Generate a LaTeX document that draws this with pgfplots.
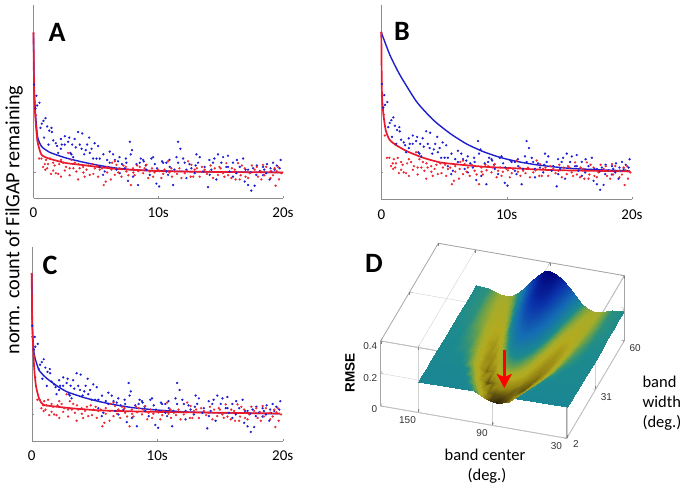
\documentclass[border=0pt]{standalone}
\usepackage{fontspec}
\setmainfont{Carlito}
\newfontfamily\arialf{Liberation Sans}
\usepackage{pgfplots}
\usepackage{pgfplotstable}
\usetikzlibrary{arrows.meta}
\pgfplotsset{compat=1.18}

\definecolor{ptblue}{RGB}{30,30,215}
\definecolor{ptred}{RGB}{235,40,50}
\definecolor{lnblue}{RGB}{30,30,205}
\definecolor{lnred}{RGB}{235,25,45}

% scatter is the same in all three panels
\pgfplotstableread{
x y
0.05 0.63
0.24 0.55
0.16 0.46
0.29 0.48
0.48 0.50
0.67 0.35
0.80 0.37
0.96 0.39
0.56 0.32
1.09 0.33
1.26 0.30
1.44 0.32
1.47 0.29
0.85 0.25
1.58 0.23
1.79 0.21
2.19 0.24
2.51 0.26
2.27 0.20
2.78 0.22
2.86 0.25
1.98 0.14
2.19 0.17
3.58 0.29
3.90 0.28
4.46 0.25
3.71 0.20
3.39 0.18
2.96 0.14
3.85 0.17
4.19 0.16
4.65 0.17
5.18 0.19
4.06 0.13
4.51 0.14
3.04 0.13
3.18 0.11
4.78 0.10
5.05 0.10
6.11 0.15
6.38 0.13
5.31 0.10
6.52 0.09
6.11 0.07
6.78 0.08
7.10 0.06
7.45 0.07
7.72 0.22
7.90 0.16
7.80 0.13
8.52 0.07
8.25 0.06
8.79 0.09
9.45 0.10
9.59 0.11
8.84 0.08
9.72 0.06
10.39 0.07
10.65 0.07
10.92 0.04
11.59 0.22
11.78 0.17
11.46 0.11
11.59 0.07
12.12 0.07
13.06 0.13
13.32 0.11
13.19 0.07
13.72 0.04
14.79 0.13
15.59 0.12
15.06 0.07
14.39 0.07
16.80 0.10
15.99 0.07
16.53 0.04
18.72 0.06
19.81 0.09
19.20 0.07
19.33 0.02
19.73 0.03
18.66 -0.005
7.58 -0.06
7.98 -0.03
8.38 -0.09
9.85 -0.08
10.07 -0.10
11.19 -0.09
12.26 -0.04
13.99 -0.105
14.66 -0.05
15.99 -0.03
16.93 -0.065
17.46 -0.13
17.73 -0.095
17.2 -0.09
18.4 -0.02
18.93 -0.05
18.13 0.01
5.31 0.04
5.71 0.007
5.58 -0.017
6.65 0.02
6.91 -0.005
7.31 0.03
9.05 0.02
9.32 -0.017
10.65 0.007
10.79 -0.017
12.26 0.02
12.66 0.03
12.92 -0.005
13.59 0.007
14.26 0.02
14.12 -0.017
15.46 0.04
15.72 0.007
16.26 -0.005
17.2 0.02
17.6 0.03
17.86 -0.017
18.4 0.04
19.06 0.007
1.2 0.2
1.9 0.19
2.5 0.2
3.1 0.2
3.3 0.24
4.3 0.2
4.9 0.21
5.6 0.13
5.9 0.09
6.9 0.11
7.4 0.1
8.6 0.1
9.0 0.05
9.9 0.03
10.3 0.08
10.9 0.09
11.3 0.02
12.0 0.1
12.5 0.06
13.0 0.05
14.1 0.09
14.5 0.1
15.2 0.11
15.6 0.04
16.3 0.09
17.0 0.02
17.4 0.0
17.9 0.05
18.5 0.02
19.0 0.03
19.5 0.05
}\bluepts

\pgfplotstableread{
x y
0 1
0.05 0.55
0.19 0.41
0.29 0.26
0.45 0.10
0.64 0.10
0.77 0.04
0.91 0.06
1.17 0.06
1.31 0.10
1.58 0.014
1.79 -0.005
1.98 -0.01
1.58 0.07
2.06 0.06
2.38 0.07
2.51 0.014
2.78 0.14
3.04 0.09
3.31 0.07
3.44 0.007
3.58 -0.05
3.98 0.04
4.25 0.02
4.51 -0.017
4.91 0.03
5.18 -0.03
5.79 -0.065
5.63 -0.09
5.31 0.02
6.25 0.02
6.52 -0.017
6.65 0.055
6.52 0.08
6.91 0.03
7.05 -0.03
7.8 -0.09
7.45 0.007
7.98 0.03
8.52 0.04
8.79 -0.005
9.05 0.055
9.32 0.007
9.59 -0.03
9.99 0.02
10.25 -0.04
10.79 0.08
11.05 0.03
11.32 0.007
11.86 -0.04
12.12 -0.005
12.39 0.08
12.66 0.055
12.92 0.02
13.32 -0.03
13.72 0.02
14.12 0.007
14.53 0.03
14.79 -0.017
15.19 -0.005
15.46 0.067
15.86 -0.04
16.13 0.02
16.4 0.067
16.53 -0.05
16.93 0.03
17.33 -0.005
17.73 0.02
18 -0.03
18.26 -0.05
18.66 0.04
18.99 0.007
19.33 0.03
19.41 -0.095
19.68 -0.05
19.87 -0.005
18.4 0.055
0.95 0.02
1.4 -0.01
2.2 -0.03
2.9 0.03
3.7 0.03
4.1 -0.03
4.7 0.06
5.9 0.04
6.2 -0.05
7.4 0.04
8.1 -0.02
8.4 0.01
9.5 0.03
10.1 0.01
10.5 0.02
11.5 -0.01
12.6 -0.03
13.1 0.03
13.9 -0.01
14.4 -0.04
15.0 0.03
15.6 -0.02
16.6 -0.02
17.0 -0.03
17.5 0.05
18.2 0.01
19.0 -0.04
19.5 0.01
1.0 0.09
1.1 0.03
1.7 0.05
2.2 0.09
2.6 0.04
2.9 -0.02
3.2 0.03
3.6 0.06
4.0 0.0
4.4 0.05
4.8 -0.01
5.1 0.05
5.5 0.03
5.9 0.0
6.3 0.07
6.8 0.0
7.2 0.05
7.6 -0.02
8.0 0.0
8.3 0.05
8.9 0.03
9.2 -0.04
9.7 0.0
10.4 -0.01
10.9 0.0
11.1 -0.03
11.7 0.03
12.3 0.01
12.8 -0.03
13.5 0.04
14.2 0.05
14.9 0.04
15.3 -0.03
15.9 0.03
16.2 -0.05
16.7 0.05
17.2 -0.04
17.9 0.04
18.5 -0.02
19.2 -0.02
19.6 0.04
}\redpts

\pgfplotsset{
  panel/.style={
    scale only axis,
    anchor=south west,
    xmin=0, xmax=20,
    axis x line*=bottom,
    axis y line*=left,
    axis line style={color=black!45,-},
    tick style={color=black!45},
    tick align=inside,
    major tick length=2pt,
    xtick={0,10,20},
    xticklabels={0,10s,20s},
    ytick={0},
    yticklabels={},
    x tick label style={font=\fontsize{15}{17}\selectfont, yshift=-6.5pt},
    clip=false,
  },
  bluedots/.style={only marks, mark=*, mark size=0.95pt, color=ptblue},
  reddots/.style={only marks, mark=*, mark size=0.95pt, color=ptred},
  blueline/.style={color=lnblue, line width=1.4pt, no marks, smooth, tension=0.35},
  redline/.style={color=lnred, line width=1.7pt, no marks, smooth, tension=0.35},
}

\begin{document}
\begin{tikzpicture}[x=1pt,y=1pt]
\useasboundingbox (0,0) rectangle (685,488);

% panel A
\begin{axis}[panel, at={(33.5pt,290pt)}, width=249.5pt, height=193pt, ymin=-0.183, ymax=1.2007]
\addplot[bluedots] table {\bluepts};
\addplot[reddots] table {\redpts};
\addplot[blueline] coordinates {(0,1) (0.05,0.629) (0.16,0.426) (0.32,0.258) (0.64,0.187) (1.31,0.144) (2.64,0.103) (3.98,0.074) (5.31,0.05) (6.65,0.031) (7.98,0.019) (10,0.012) (13.32,0.005) (20,0)};
\addplot[redline] coordinates {(0,1) (0.05,0.569) (0.16,0.378) (0.32,0.222) (0.64,0.127) (1.31,0.098) (2.64,0.067) (3.98,0.053) (5.31,0.038) (6.65,0.026) (7.98,0.019) (10,0.01) (13.32,0.005) (20,0)};
\end{axis}

% panel B
\begin{axis}[panel, at={(381.3pt,288.7pt)}, width=250.7pt, height=194.3pt, ymin=-0.198, ymax=1.197]
\addplot[bluedots] table {\bluepts};
\addplot[reddots] table {\redpts};
\addplot[blueline] coordinates {(0,1) (0.69,0.837) (1.49,0.694) (2.82,0.502) (4.15,0.371) (5.48,0.275) (6.81,0.199) (8.14,0.144) (9.47,0.103) (10.8,0.074) (12.13,0.053) (13.46,0.038) (14.79,0.026) (16.12,0.019) (19.84,0.005)};
\addplot[redline] coordinates {(0,1) (0.05,0.562) (0.16,0.419) (0.35,0.299) (0.64,0.232) (1.09,0.196) (2.02,0.148) (3.35,0.1) (4.68,0.067) (6.01,0.053) (8.14,0.036) (10.8,0.024) (13.46,0.012) (19.84,0.002)};
\end{axis}

% panel C
\begin{axis}[panel, at={(31.7pt,47pt)}, width=251pt, height=194pt, ymin=-0.195, ymax=1.193]
\addplot[bluedots] table {\bluepts};
\addplot[reddots] table {\redpts};
\addplot[blueline] coordinates {(0,1) (0.05,0.623) (0.19,0.432) (0.35,0.372) (0.61,0.308) (1.2,0.253) (2,0.2) (2.79,0.158) (4.12,0.117) (5.44,0.086) (6.77,0.062) (8.1,0.043) (10.09,0.026) (12.08,0.014) (14.74,0.007) (19.79,0)};
\addplot[redline] coordinates {(0,1) (0.05,0.623) (0.19,0.337) (0.35,0.193) (0.61,0.103) (0.93,0.064) (1.73,0.053) (3.32,0.038) (5.44,0.024) (8.1,0.017) (10.76,0.012) (19.79,0.002)};
\end{axis}

% panel D, unit vectors taken from the box corners
\begin{axis}[
  at={(380.7pt,49.7pt)}, anchor=south west,
  x={(-1.24pt,0.2156pt)}, y={(0.9943pt,1.684pt)}, z={(0pt,162.5pt)},
  xmin=30, xmax=180, ymin=2, ymax=60, zmin=0, zmax=0.4,
  xtick={30,90,150}, ytick={2,31,60}, ztick={0,0.2,0.4},
  zticklabels={0,0.2,0.4},
  grid=major,
  grid style={color=black!18, line width=0.4pt},
  axis line style={color=black!35, line width=0.8pt},
  tick style={color=black!50},
  major tick length=3pt,
  ticklabel style={font=\arialf\fontsize{10}{12}\selectfont, color=black!80, /pgf/number format/assume math mode=true},
  x tick label style={xshift=-8pt, yshift=1pt},
  y tick label style={xshift=3pt, yshift=2pt},
  colormap={rmse}{
    rgb255(9cm)=(15,10,5);
    rgb255(10.5cm)=(95,80,15);
    rgb255(11.5cm)=(150,135,20);
    rgb255(13.5cm)=(180,170,30);
    rgb255(15cm)=(165,172,42);
    rgb255(16.5cm)=(105,160,75);
    rgb255(17.5cm)=(55,148,115);
    rgb255(18.3cm)=(28,138,142);
    rgb255(23cm)=(20,108,180);
    rgb255(29cm)=(10,50,170);
    rgb255(35cm)=(0,0,120)
  },
  point meta=z,
  point meta min=0.09, point meta max=0.35,
]
\addplot3[surf, shader=interp, mesh/cols=21] coordinates {
(30,2,.19) (40,2,.19) (50,2,.19) (55,2,.19) (60,2,.19) (65,2,.19) (70,2,.19) (75,2,.19) (80,2,.18) (85,2,.17) (90,2,.165) (95,2,.17) (100,2,.18) (105,2,.19) (110,2,.19) (115,2,.19) (120,2,.19) (125,2,.19) (130,2,.19) (140,2,.19) (150,2,.19)
(30,6,.188) (40,6,.188) (50,6,.188) (55,6,.188) (60,6,.188) (65,6,.188) (70,6,.18) (75,6,.15) (80,6,.115) (85,6,.10) (90,6,.095) (95,6,.10) (100,6,.115) (105,6,.15) (110,6,.18) (115,6,.188) (120,6,.188) (125,6,.188) (130,6,.188) (140,6,.188) (150,6,.188)
(30,10,.187) (40,10,.187) (50,10,.187) (55,10,.187) (60,10,.187) (65,10,.18) (70,10,.155) (75,10,.125) (80,10,.11) (85,10,.105) (90,10,.105) (95,10,.105) (100,10,.11) (105,10,.125) (110,10,.155) (115,10,.18) (120,10,.187) (125,10,.187) (130,10,.187) (140,10,.187) (150,10,.187)
(30,15,.186) (40,15,.186) (50,15,.186) (55,15,.186) (60,15,.18) (65,15,.155) (70,15,.125) (75,15,.105) (80,15,.11) (85,15,.12) (90,15,.125) (95,15,.12) (100,15,.11) (105,15,.105) (110,15,.125) (115,15,.155) (120,15,.18) (125,15,.186) (130,15,.186) (140,15,.186) (150,15,.186)
(30,21,.185) (40,21,.185) (50,21,.183) (55,21,.175) (60,21,.15) (65,21,.125) (70,21,.11) (75,21,.115) (80,21,.14) (85,21,.16) (90,21,.165) (95,21,.16) (100,21,.14) (105,21,.115) (110,21,.11) (115,21,.125) (120,21,.15) (125,21,.175) (130,21,.183) (140,21,.185) (150,21,.185)
(30,28,.184) (40,28,.184) (50,28,.175) (55,28,.16) (60,28,.137) (65,28,.118) (70,28,.117) (75,28,.14) (80,28,.17) (85,28,.19) (90,28,.195) (95,28,.19) (100,28,.17) (105,28,.14) (110,28,.117) (115,28,.118) (120,28,.137) (125,28,.16) (130,28,.175) (140,28,.184) (150,28,.184)
(30,35,.183) (40,35,.182) (50,35,.167) (55,35,.15) (60,35,.13) (65,35,.122) (70,35,.135) (75,35,.17) (80,35,.205) (85,35,.23) (90,35,.24) (95,35,.23) (100,35,.205) (105,35,.17) (110,35,.135) (115,35,.122) (120,35,.13) (125,35,.15) (130,35,.167) (140,35,.182) (150,35,.183)
(30,42,.182) (40,42,.18) (50,42,.16) (55,42,.143) (60,42,.133) (65,42,.135) (70,42,.16) (75,42,.2) (80,42,.24) (85,42,.265) (90,42,.275) (95,42,.265) (100,42,.24) (105,42,.2) (110,42,.16) (115,42,.135) (120,42,.133) (125,42,.143) (130,42,.16) (140,42,.18) (150,42,.182)
(30,49,.182) (40,49,.178) (50,49,.155) (55,49,.142) (60,49,.14) (65,49,.155) (70,49,.185) (75,49,.23) (80,49,.27) (85,49,.3) (90,49,.31) (95,49,.3) (100,49,.27) (105,49,.23) (110,49,.185) (115,49,.155) (120,49,.14) (125,49,.142) (130,49,.155) (140,49,.178) (150,49,.182)
(30,55,.182) (40,55,.178) (50,55,.152) (55,55,.145) (60,55,.15) (65,55,.17) (70,55,.205) (75,55,.25) (80,55,.29) (85,55,.32) (90,55,.33) (95,55,.32) (100,55,.29) (105,55,.25) (110,55,.205) (115,55,.17) (120,55,.15) (125,55,.145) (130,55,.152) (140,55,.178) (150,55,.182)
(30,60,.182) (40,60,.178) (50,60,.152) (55,60,.15) (60,60,.16) (65,60,.185) (70,60,.225) (75,60,.27) (80,60,.31) (85,60,.34) (90,60,.35) (95,60,.34) (100,60,.31) (105,60,.27) (110,60,.225) (115,60,.185) (120,60,.16) (125,60,.15) (130,60,.152) (140,60,.178) (150,60,.182)
};
\end{axis}

% red arrow in panel D
\draw[color=red, line width=3.2pt, -{Stealth[length=14pt,width=15pt,inset=3pt]}] (504.3,138) -- (504.3,100);

% text
\node[rotate=90, font=\fontsize{20.2}{22}\selectfont] at (14,268) {norm. count of FilGAP remaining};
\node[font=\bfseries\fontsize{28}{30}\selectfont] at (57,456) {A};
\node[font=\bfseries\fontsize{28}{30}\selectfont] at (402,457) {B};
\node[font=\bfseries\fontsize{28}{30}\selectfont] at (50,223) {C};
\node[font=\bfseries\fontsize{28}{30}\selectfont] at (374,225) {D};
\node[rotate=90, font=\arialf\bfseries\fontsize{13.5}{15}\selectfont] at (350,115) {RMSE};
\node[font=\fontsize{16.5}{18}\selectfont] at (485,33) {band center};
\node[font=\fontsize{16.5}{18}\selectfont] at (487,12) {(deg.)};
\node[anchor=west, font=\fontsize{16.5}{18}\selectfont] at (639,106) {band};
\node[anchor=west, font=\fontsize{16.5}{18}\selectfont] at (639,86) {width};
\node[anchor=west, font=\fontsize{16.5}{18}\selectfont] at (639,65) {(deg.)};
\end{tikzpicture}
\end{document}
